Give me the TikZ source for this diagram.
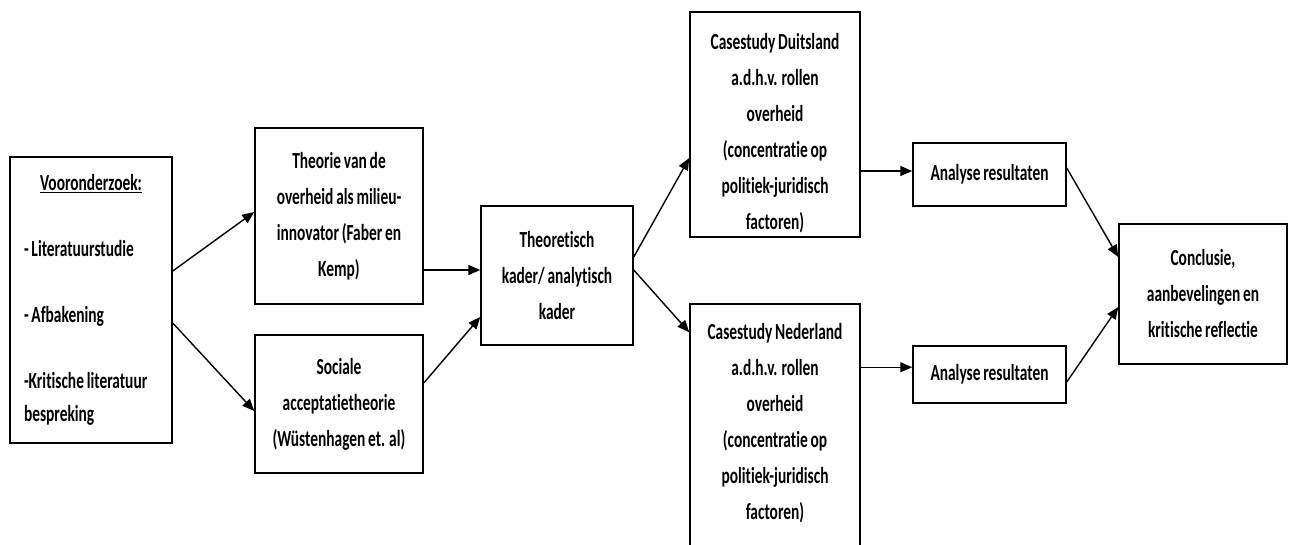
\documentclass[tikz,border=0pt]{standalone}
\usepackage{fontspec}
\setmainfont{Carlito}[FakeStretch=0.67, WordSpace=0.8, Ligatures=NoCommon]
\usetikzlibrary{arrows.meta}

% invisible struts that push the text of a box down or up
\newcommand\padtop[1]{\rule{0pt}{#1}}
\newcommand\padbot[1]{\rule[-#1]{0pt}{#1}}

\tikzset{
  box/.style={draw=black, line width=1.5pt, fill=white, align=center,
              inner sep=0pt, font=\bfseries\fontsize{23}{36}\selectfont},
  flow/.style={line width=1.4pt, -{Triangle[length=12pt,width=10pt]}},
}

\begin{document}
\begin{tikzpicture}[x=1pt, y=-1pt]
  \useasboundingbox (0,0) rectangle (1291,544);
  \begin{scope}
  \clip (0,0) rectangle (1291,544);

  % preliminary research
  \node[box, minimum width=162pt, minimum height=286pt, text width=134pt,
        align=flush left, font=\bfseries\fontsize{23}{33}\selectfont]
    (voor) at (91,300)
    {\makebox[\linewidth]{\underline{Vooronderzoek:}}\\[33pt]
     - Literatuurstudie\\[33pt]
     - Afbakening\\[33pt]
     -Kritische literatuur\\
     bespreking};

  % theories
  \node[box, minimum width=168pt, minimum height=176pt] (theo) at (339,216)
    {Theorie van de\\ overheid als milieu-\\ innovator (Faber en\\ Kemp)};
  \node[box, minimum width=168pt, minimum height=138pt] (soc) at (339,404)
    {Sociale\\ acceptatietheorie\\ (Wüstenhagen et. al)};

  % framework
  \node[box, minimum width=152pt, minimum height=139pt] (kader) at (557,275.5)
    {Theoretisch\\ kader/ analytisch\\ kader};

  % case studies
  \node[box, minimum width=170pt, minimum height=225pt] (duits) at (775,124.5)
    {\padtop{34pt}Casestudy Duitsland\\ a.d.h.v. rollen\\ overheid\\
     (concentratie op\\ politiek-juridisch\\ factoren)};
  \node[box, minimum width=170pt, minimum height=266pt] (ned) at (775,437)
    {Casestudy Nederland\\ a.d.h.v. rollen\\ overheid\\
     (concentratie op\\ politiek-juridisch\\ factoren)\padbot{32pt}};

  % analyses
  \node[box, minimum width=153pt, minimum height=63pt] (anaA) at (989.5,174.5)
    {Analyse resultaten};
  \node[box, minimum width=153pt, minimum height=57pt] (anaB) at (989.5,374.5)
    {Analyse resultaten};

  % conclusion
  \node[box, minimum width=168pt, minimum height=140pt] (concl) at (1203,294)
    {Conclusie,\\ aanbevelingen en\\ kritische reflectie};

  % connectors
  \draw[flow] ([yshift=29pt]voor.east) -- ([yshift=4pt]theo.west);
  \draw[flow] ([yshift=-23pt]voor.east) -- ([yshift=-7pt]soc.west);
  \draw[flow] ([yshift=-54pt]theo.east) -- ([yshift=-54pt]theo.east -| kader.west);
  \draw[flow] ([yshift=21pt]soc.east) -- ([yshift=-41.5pt]kader.west);
  \draw[flow] ([yshift=18.5pt]kader.east) -- ([yshift=-33.5pt]duits.west);
  \draw[flow] ([yshift=5.5pt]kader.east) -- ([yshift=-29pt]ned.north west);
  \draw[flow] ([yshift=-46.5pt]duits.east) -- ([yshift=-46.5pt]duits.east -| anaA.west);
  \draw[flow] ([yshift=-64pt]ned.north east) -- ([yshift=-64pt]ned.north east -| anaB.west);
  \draw[flow] ([yshift=6.5pt]anaA.east) -- ([yshift=37pt]concl.west);
  \draw[flow] ([yshift=-7.5pt]anaB.east) -- ([yshift=-13pt]concl.west);
  \end{scope}
\end{tikzpicture}
\end{document}
